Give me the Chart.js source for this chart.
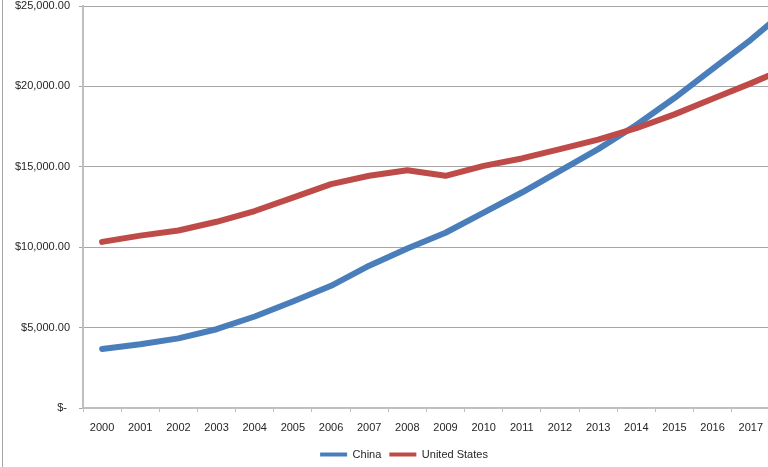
<!DOCTYPE html>
<html>
<head>
<meta charset="utf-8">
<script src="https://cdn.jsdelivr.net/npm/chart.js@4"></script>
<style>
  html, body { margin: 0; padding: 0; background: #fff; overflow: hidden; }
  #wrap { position: relative; width: 768px; height: 467px; overflow: hidden; }
  #edge { position: absolute; left: 2px; top: 0; width: 1px; height: 467px; background: #a6a6a6; }
  canvas { position: absolute; left: 0; top: 0; }
</style>
</head>
<body>
<div id="wrap">
  <canvas id="gdpChart" width="860" height="470"></canvas>
  <div id="edge"></div>
</div>
<script>
// Data
const years = ['2000', '2001', '2002', '2003', '2004', '2005', '2006', '2007', '2008', '2009',
               '2010', '2011', '2012', '2013', '2014', '2015', '2016', '2017', '2018'];
const china = [3670, 3960, 4330, 4900, 5690, 6625, 7600, 8850, 9920, 10900,
               12150, 13400, 14750, 16100, 17600, 19275, 21090, 22900, 24900];
const unitedStates = [10330, 10720, 11040, 11580, 12250, 13080, 13920, 14440, 14790, 14440,
                      15060, 15520, 16100, 16690, 17400, 18260, 19230, 20190, 21200];

const textColor = '#262626';
const font = { family: 'Liberation Sans, Arial, sans-serif', size: 11 };

function formatDollar(value) {
    if (value === 0) return '$- ';
    return '$' + value.toLocaleString('en-US', { minimumFractionDigits: 2, maximumFractionDigits: 2 });
}

document.addEventListener('DOMContentLoaded', function() {
    const ctx = document.getElementById('gdpChart');
    new Chart(ctx, {
        type: 'line',
        data: {
            labels: years,
            datasets: [{
                label: 'China',
                data: china,
                borderColor: '#4a7ebb',
                backgroundColor: '#4a7ebb',
                borderWidth: 6,
                borderCapStyle: 'round',
                borderJoinStyle: 'round',
                pointRadius: 0,
                tension: 0,
                order: 1
            }, {
                label: 'United States',
                data: unitedStates,
                borderColor: '#be4b48',
                backgroundColor: '#be4b48',
                borderWidth: 6,
                borderCapStyle: 'round',
                borderJoinStyle: 'round',
                pointRadius: 0,
                tension: 0,
                order: 0
            }]
        },
        options: {
            responsive: false,
            animation: false,
            layout: { padding: { left: 0, right: 52, top: 0, bottom: 0 } },
            plugins: {
                tooltip: { enabled: false },
                legend: {
                    position: 'bottom',
                    labels: {
                        color: textColor,
                        font: font,
                        usePointStyle: true,
                        pointStyle: 'line',
                        pointStyleWidth: 27,
                        boxHeight: 11,
                        padding: 8,
                        sort: function(a, b) { return a.datasetIndex - b.datasetIndex; },
                        generateLabels: function(chart) {
                            const items = Chart.defaults.plugins.legend.labels.generateLabels(chart);
                            items.forEach(item => { item.lineWidth = 4; item.pointStyle = 'line'; });
                            return items;
                        }
                    }
                }
            },
            scales: {
                x: {
                    offset: true,
                    grid: {
                        offset: true,
                        drawOnChartArea: false,
                        drawTicks: true,
                        tickLength: 4,
                        color: '#bfbfbf'
                    },
                    border: { display: true, color: '#bfbfbf', width: 2 },
                    ticks: {
                        color: textColor,
                        font: font,
                        padding: 9,
                        maxRotation: 0,
                        autoSkip: false
                    },
                    afterFit: function(scale) { scale.height = 33; }
                },
                y: {
                    min: 0,
                    max: 25000,
                    grid: {
                        color: '#a6a6a6',
                        tickLength: 4,
                        drawTicks: true
                    },
                    border: { display: true, color: '#bfbfbf', width: 2 },
                    ticks: {
                        stepSize: 5000,
                        color: textColor,
                        font: font,
                        padding: 9,
                        callback: function(value) { return formatDollar(value); }
                    },
                    afterFit: function(scale) {
                        scale.width = 83;
                        scale.paddingTop = 6;
                    }
                }
            }
        }
    });
});
</script>
</body>
</html>
